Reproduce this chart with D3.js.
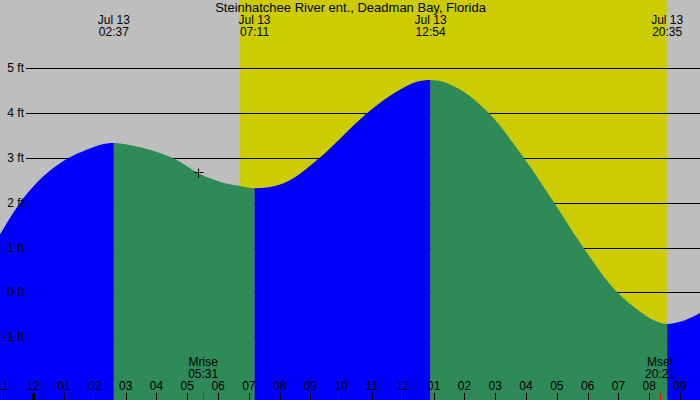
<!DOCTYPE html>
<html>
<head>
<meta charset="utf-8">
<script src="https://cdn.jsdelivr.net/npm/d3@7"></script>
<style>
body { margin: 0; background: #fff; }
text { font-family: "Liberation Sans", Arial, sans-serif; font-size: 12px; fill: #000; }
text.title { font-size: 13px; }
</style>
</head>
<body>
<div id="chart"></div>
<script>
const w = 700;
const h = 400;

const title = "Steinhatchee River ent., Deadman Bay, Florida";

// high / low tides
const extremeDay = ["Jul 13", "Jul 13", "Jul 13", "Jul 13"];
const extremeTime = ["02:37", "07:11", "12:54", "20:35"];
const extremeFeet = [3.33, 2.32, 4.74, -0.71];

// curve read between the extremes (hours from midnight Jul 13, feet)
const sampleHours = [-1.09, -0.44, 0.0, 1.13, 1.73, 2.16,
    3.24, 3.78, 4.54, 5.41, 6.06, 6.71,
    8.11, 9.28, 10.05, 10.84, 11.90, 12.45,
    13.80, 14.79, 15.94, 16.90, 17.86, 18.96, 19.70, 20.13,
    21.0, 21.65];
const sampleFeet = [1.28, 1.99, 2.36, 2.99, 3.18, 3.29,
    3.27, 3.18, 2.99, 2.64, 2.47, 2.37,
    2.43, 2.99, 3.49, 4.00, 4.52, 4.70,
    4.55, 4.00, 2.99, 2.01, 1.00, 0.00, -0.43, -0.62,
    -0.66, -0.46];

// sun and moon
const sunTimes = ["06:42", "20:34"];
const moonNames = ["Mrise", "Mset"];
const moonTimes = ["05:31", "20:21"];

// "+" marker on the curve
const markerHour = 5.34;
const markerFeet = 2.69;

const feetTicks = [5, 4, 3, 2, 1, 0, -1];
const hourTicks = [-1, 0, 1, 2, 3, 4, 5, 6, 7, 8, 9, 10, 11, 12, 13, 14, 15, 16, 17, 18, 19, 20, 21];
const hourLabels = ["11", "12", "01", "02", "03", "04", "05", "06", "07", "08", "09", "10",
    "11", "12", "01", "02", "03", "04", "05", "06", "07", "08", "09"];

const toHours = (s) => { let p = s.split(":"); return +p[0] + p[1] / 60; };

const x = d3.scaleLinear().domain([0, 21]).range([33.3, 680]);
const y = d3.scaleLinear().domain([-1, 5]).range([337.1, 68.3]);

const svg = d3.select("#chart")
    .append("svg")
    .attr("width", w)
    .attr("height", h);

// background: night gray, day yellow
svg.append("rect")
    .attr("width", w)
    .attr("height", h)
    .attr("fill", "#bebebe");

svg.append("rect")
    .attr("x", x(toHours(sunTimes[0])))
    .attr("y", 0)
    .attr("width", x(toHours(sunTimes[1])) - x(toHours(sunTimes[0])))
    .attr("height", h)
    .attr("fill", "#cccc00");

// grid lines
svg.selectAll(".grid")
    .data(feetTicks)
    .enter()
    .append("line")
    .attr("x1", 26)
    .attr("x2", w)
    .attr("y1", d => Math.round(y(d)) + 0.5)
    .attr("y2", d => Math.round(y(d)) + 0.5)
    .attr("stroke", "#000")
    .attr("stroke-width", 1);

// tide curve
let points = [];
sampleHours.forEach((d, i) => points.push([d, sampleFeet[i]]));
extremeTime.forEach((d, i) => points.push([toHours(d), extremeFeet[i]]));
points.sort((a, b) => a[0] - b[0]);

const area = d3.area()
    .x(d => x(d[0]))
    .y0(h)
    .y1(d => y(d[1]))
    .curve(d3.curveMonotoneX);

svg.append("clipPath")
    .attr("id", "tideclip")
    .append("path")
    .attr("d", area(points));

// rising = blue, falling = green
let bounds = [x.invert(0)].concat(extremeTime.map(toHours), [x.invert(w)]);
let firstRising = extremeFeet[0] > extremeFeet[1];
let segs = d3.range(bounds.length - 1).map(i => ({
    a: bounds[i],
    b: bounds[i + 1],
    rising: (i % 2 === 0) === firstRising
}));

svg.append("g")
    .attr("clip-path", "url(#tideclip)")
    .selectAll("rect")
    .data(segs)
    .enter()
    .append("rect")
    .attr("x", d => x(d.a))
    .attr("y", 0)
    .attr("width", d => x(d.b) - x(d.a))
    .attr("height", h)
    .attr("fill", d => d.rising ? "#0000ff" : "#2e8b57");

// feet labels
svg.selectAll(".flab")
    .data(feetTicks)
    .enter()
    .append("text")
    .attr("x", 24)
    .attr("y", d => y(d) + 4)
    .attr("text-anchor", "end")
    .text(d => d + " ft");

// title
svg.append("text")
    .attr("class", "title")
    .attr("x", 350.5)
    .attr("y", 12)
    .attr("text-anchor", "middle")
    .text(title);

// extreme labels
extremeTime.forEach((d, i) => {
    let cx = x(toHours(d));
    svg.append("text").attr("x", cx).attr("y", 24).attr("text-anchor", "middle").text(extremeDay[i]);
    svg.append("text").attr("x", cx).attr("y", 36).attr("text-anchor", "middle").text(d);
});

// moon labels and red ticks
moonTimes.forEach((d, i) => {
    let cx = x(toHours(d));
    svg.append("text").attr("x", cx).attr("y", 366).attr("text-anchor", "middle").text(moonNames[i]);
    svg.append("text").attr("x", cx).attr("y", 378).attr("text-anchor", "middle").text(d);
    svg.append("line")
        .attr("x1", Math.round(cx) + 0.5).attr("x2", Math.round(cx) + 0.5)
        .attr("y1", 393).attr("y2", h)
        .attr("stroke", "#ff0000");
});

// hour ticks
svg.selectAll(".hlab")
    .data(hourTicks)
    .enter()
    .append("text")
    .attr("x", d => x(d))
    .attr("y", 390)
    .attr("text-anchor", "middle")
    .text((d, i) => hourLabels[i]);

svg.selectAll(".htick")
    .data(hourTicks)
    .enter()
    .append("line")
    .attr("x1", d => Math.round(x(d)) + 0.5)
    .attr("x2", d => Math.round(x(d)) + 0.5)
    .attr("y1", 393)
    .attr("y2", h)
    .attr("stroke", "#000")
    .attr("stroke-width", d => d === 0 ? 3 : 1);

// marker
let mx = Math.round(x(markerHour)) + 0.5;
let my = Math.round(y(markerFeet)) + 0.5;
svg.append("path")
    .attr("d", "M" + (mx - 4) + "," + my + "H" + (mx + 5) + "M" + mx + "," + (my - 4) + "V" + (my + 5))
    .attr("stroke", "#000")
    .attr("fill", "none");
</script>
</body>
</html>
